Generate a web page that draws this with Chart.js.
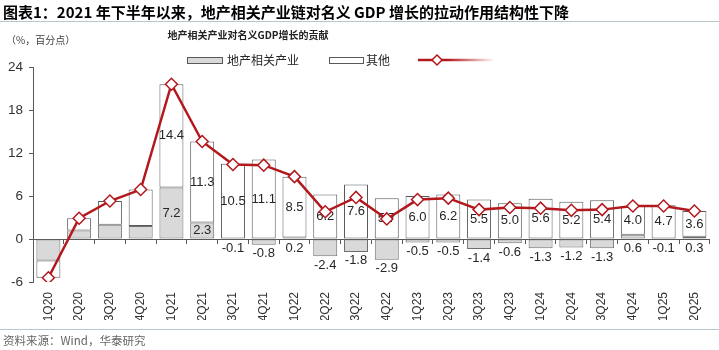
<!DOCTYPE html>
<html>
<head>
<meta charset="utf-8">
<script src="https://cdn.jsdelivr.net/npm/chart.js@4.4.1/dist/chart.umd.min.js"></script>
<style>
body { margin: 0; background: #fff; }
#wrap { position: relative; width: 719px; height: 350px; overflow: hidden; font-family: "Liberation Sans", "Noto Sans CJK SC", sans-serif; }
#gdpChart { position: absolute; left: 0; top: 0; }
.txt { position: absolute; white-space: nowrap; }
.rule { position: absolute; left: 0; width: 719px; height: 1px; background: #b9c7cc; }
</style>
</head>
<body>
<div id="wrap">
    <canvas id="gdpChart" width="719" height="350"></canvas>
    <div class="txt" style="left:3px;top:3px;line-height:18px;font-size:15px;font-weight:bold;color:#000;font-family:'Noto Sans CJK SC',sans-serif;">图表1：2021 年下半年以来，地产相关产业链对名义 GDP 增长的拉动作用结构性下降</div>
    <div class="rule" style="top:21px"></div>
    <div class="txt" style="left:0;width:496px;text-align:center;top:28px;line-height:14px;font-size:10px;font-weight:bold;color:#222;font-family:'Noto Sans CJK SC',sans-serif;">地产相关产业对名义GDP增长的贡献</div>
    <div class="txt" style="left:6px;top:33px;line-height:14px;font-size:10px;color:#404040;font-family:'Noto Sans CJK SC',sans-serif;">（%，百分点）</div>
    <div class="rule" style="top:329px"></div>
    <div class="txt" style="left:3px;top:333px;line-height:14px;font-size:11.5px;color:#666;font-family:'Noto Sans CJK SC',sans-serif;">资料来源：Wind，华泰研究</div>
</div>
<script>
const quarters = ["1Q20","2Q20","3Q20","4Q20","1Q21","2Q21","3Q21","4Q21","1Q22","2Q22","3Q22","4Q22",
    "1Q23","2Q23","3Q23","4Q23","1Q24","2Q24","3Q24","4Q24","1Q25","2Q25"];
const realEstate = [-3.0, 1.2, 2.0, 1.8, 7.2, 2.3, -0.1, -0.8, 0.2, -2.4, -1.8, -2.9,
    -0.5, -0.5, -1.4, -0.6, -1.3, -1.2, -1.3, 0.6, -0.1, 0.3];
const others = [-2.4, 1.7, 3.3, 5.1, 14.4, 11.3, 10.5, 11.1, 8.5, 6.2, 7.6, 5.7,
    6.0, 6.2, 5.5, 5.0, 5.6, 5.2, 5.4, 4.0, 4.7, 3.6];
const nominalGdp = [-5.4, 2.9, 5.3, 6.9, 21.6, 13.6, 10.4, 10.3, 8.7, 3.8, 5.8, 2.8,
    5.5, 5.7, 4.1, 4.4, 4.3, 4.0, 4.1, 4.6, 4.6, 3.9];
const yTicks = [-6, 0, 6, 12, 18, 24];
const labelStart = 4; // value labels start from 1Q21

const RED = "#b3181d";
const NUM_FONT = '"Liberation Sans", Arial, sans-serif';

// value labels, drawn before the line so the diamonds sit on top
const barLabels = {
    id: "barLabels",
    beforeDatasetDraw(chart, args) {
        if (args.meta.type !== "line") return;
        const ctx = chart.ctx;
        const y = chart.scales.y;
        ctx.save();
        ctx.font = "13px " + NUM_FONT;
        ctx.fillStyle = "#262626";
        ctx.textAlign = "center";
        ctx.textBaseline = "middle";
        [0, 1].forEach(di => {
            const values = chart.data.datasets[di].data;
            chart.getDatasetMeta(di).data.forEach((bar, i) => {
                if (i < labelStart) return;
                const v = values[i];
                let ty;
                if (di === 1 || v >= 2) ty = (bar.y + bar.base) / 2;
                else ty = y.getPixelForValue(Math.min(v, 0)) + 9;
                ctx.fillText(v.toFixed(1), bar.x, ty);
            });
        });
        ctx.restore();
    }
};

// hand drawn legend row under the subtitle
const legendRow = {
    id: "legendRow",
    afterDraw(chart) {
        const ctx = chart.ctx;
        ctx.save();
        ctx.lineWidth = 1;
        ctx.fillStyle = "#d9d9d9";
        ctx.fillRect(187, 57, 35, 6);
        ctx.strokeStyle = "#595959";
        ctx.strokeRect(187.5, 57.5, 35, 6);
        ctx.fillStyle = "#fff";
        ctx.fillRect(329, 57, 34, 6);
        ctx.strokeRect(329.5, 57.5, 34, 6);

        ctx.font = '12px "Noto Sans CJK SC", sans-serif';
        ctx.fillStyle = "#262626";
        ctx.textBaseline = "middle";
        ctx.fillText("地产相关产业", 227, 60);
        ctx.fillText("其他", 366, 60);

        const grad = ctx.createLinearGradient(418, 0, 495, 0);
        grad.addColorStop(0, RED);
        grad.addColorStop(0.38, RED);
        grad.addColorStop(1, "rgba(179,24,29,0)");
        ctx.strokeStyle = grad;
        ctx.lineWidth = 2.5;
        ctx.beginPath();
        ctx.moveTo(418, 60);
        ctx.lineTo(495, 60);
        ctx.stroke();

        ctx.fillStyle = "#fff";
        ctx.strokeStyle = RED;
        ctx.lineWidth = 1.5;
        ctx.beginPath();
        ctx.moveTo(437, 55);
        ctx.lineTo(442, 60);
        ctx.lineTo(437, 65);
        ctx.lineTo(432, 60);
        ctx.closePath();
        ctx.fill();
        ctx.stroke();
        ctx.restore();
    }
};

new Chart(document.getElementById("gdpChart"), {
    data: {
        labels: quarters,
        datasets: [
            {
                type: "bar",
                label: "地产相关产业",
                data: realEstate,
                backgroundColor: "#d9d9d9",
                borderColor: "#6e6e6e",
                borderWidth: 1,
                borderSkipped: false,
                barPercentage: 0.78,
                categoryPercentage: 1,
                order: 1
            },
            {
                type: "bar",
                label: "其他",
                data: others,
                backgroundColor: "#fff",
                borderColor: "#595959",
                borderWidth: 1,
                borderSkipped: false,
                barPercentage: 0.78,
                categoryPercentage: 1,
                order: 2
            },
            {
                type: "line",
                label: "名义GDP",
                data: nominalGdp,
                borderColor: RED,
                borderWidth: 2.5,
                tension: 0,
                pointStyle: "rectRot",
                pointRadius: 6,
                pointBorderWidth: 1.5,
                pointBackgroundColor: "#fff",
                pointBorderColor: RED,
                order: 0
            }
        ]
    },
    options: {
        responsive: false,
        animation: false,
        devicePixelRatio: 1,
        layout: { padding: { top: 67, right: 9, bottom: 30, left: 0 } },
        plugins: {
            legend: { display: false },
            tooltip: { enabled: false }
        },
        scales: {
            x: {
                stacked: true,
                offset: true,
                grid: { display: false, drawTicks: false },
                border: { display: false },
                ticks: {
                    autoSkip: false,
                    maxRotation: 90,
                    minRotation: 90,
                    padding: 10,
                    color: "#333",
                    font: { size: 12, family: NUM_FONT }
                },
                afterFit(scale) { scale.height = 38; }
            },
            x2: {
                type: "category",
                position: { y: 0 },
                offset: true,
                grid: {
                    offset: true,
                    drawOnChartArea: false,
                    drawTicks: true,
                    tickLength: 4,
                    color: "#595959"
                },
                border: { display: true, color: "#595959", width: 1 },
                ticks: { display: false }
            },
            y: {
                stacked: true,
                min: -6,
                max: 24,
                afterBuildTicks(scale) {
                    scale.ticks = yTicks.map(v => ({ value: v }));
                },
                grid: {
                    drawOnChartArea: false,
                    drawTicks: true,
                    tickLength: 4,
                    color: "#595959"
                },
                border: { display: true, color: "#595959", width: 1 },
                ticks: {
                    padding: 6,
                    color: "#333",
                    font: { size: 13.5, family: NUM_FONT }
                },
                afterFit(scale) { scale.width = 33; }
            }
        }
    },
    plugins: [barLabels, legendRow]
});
</script>
</body>
</html>
